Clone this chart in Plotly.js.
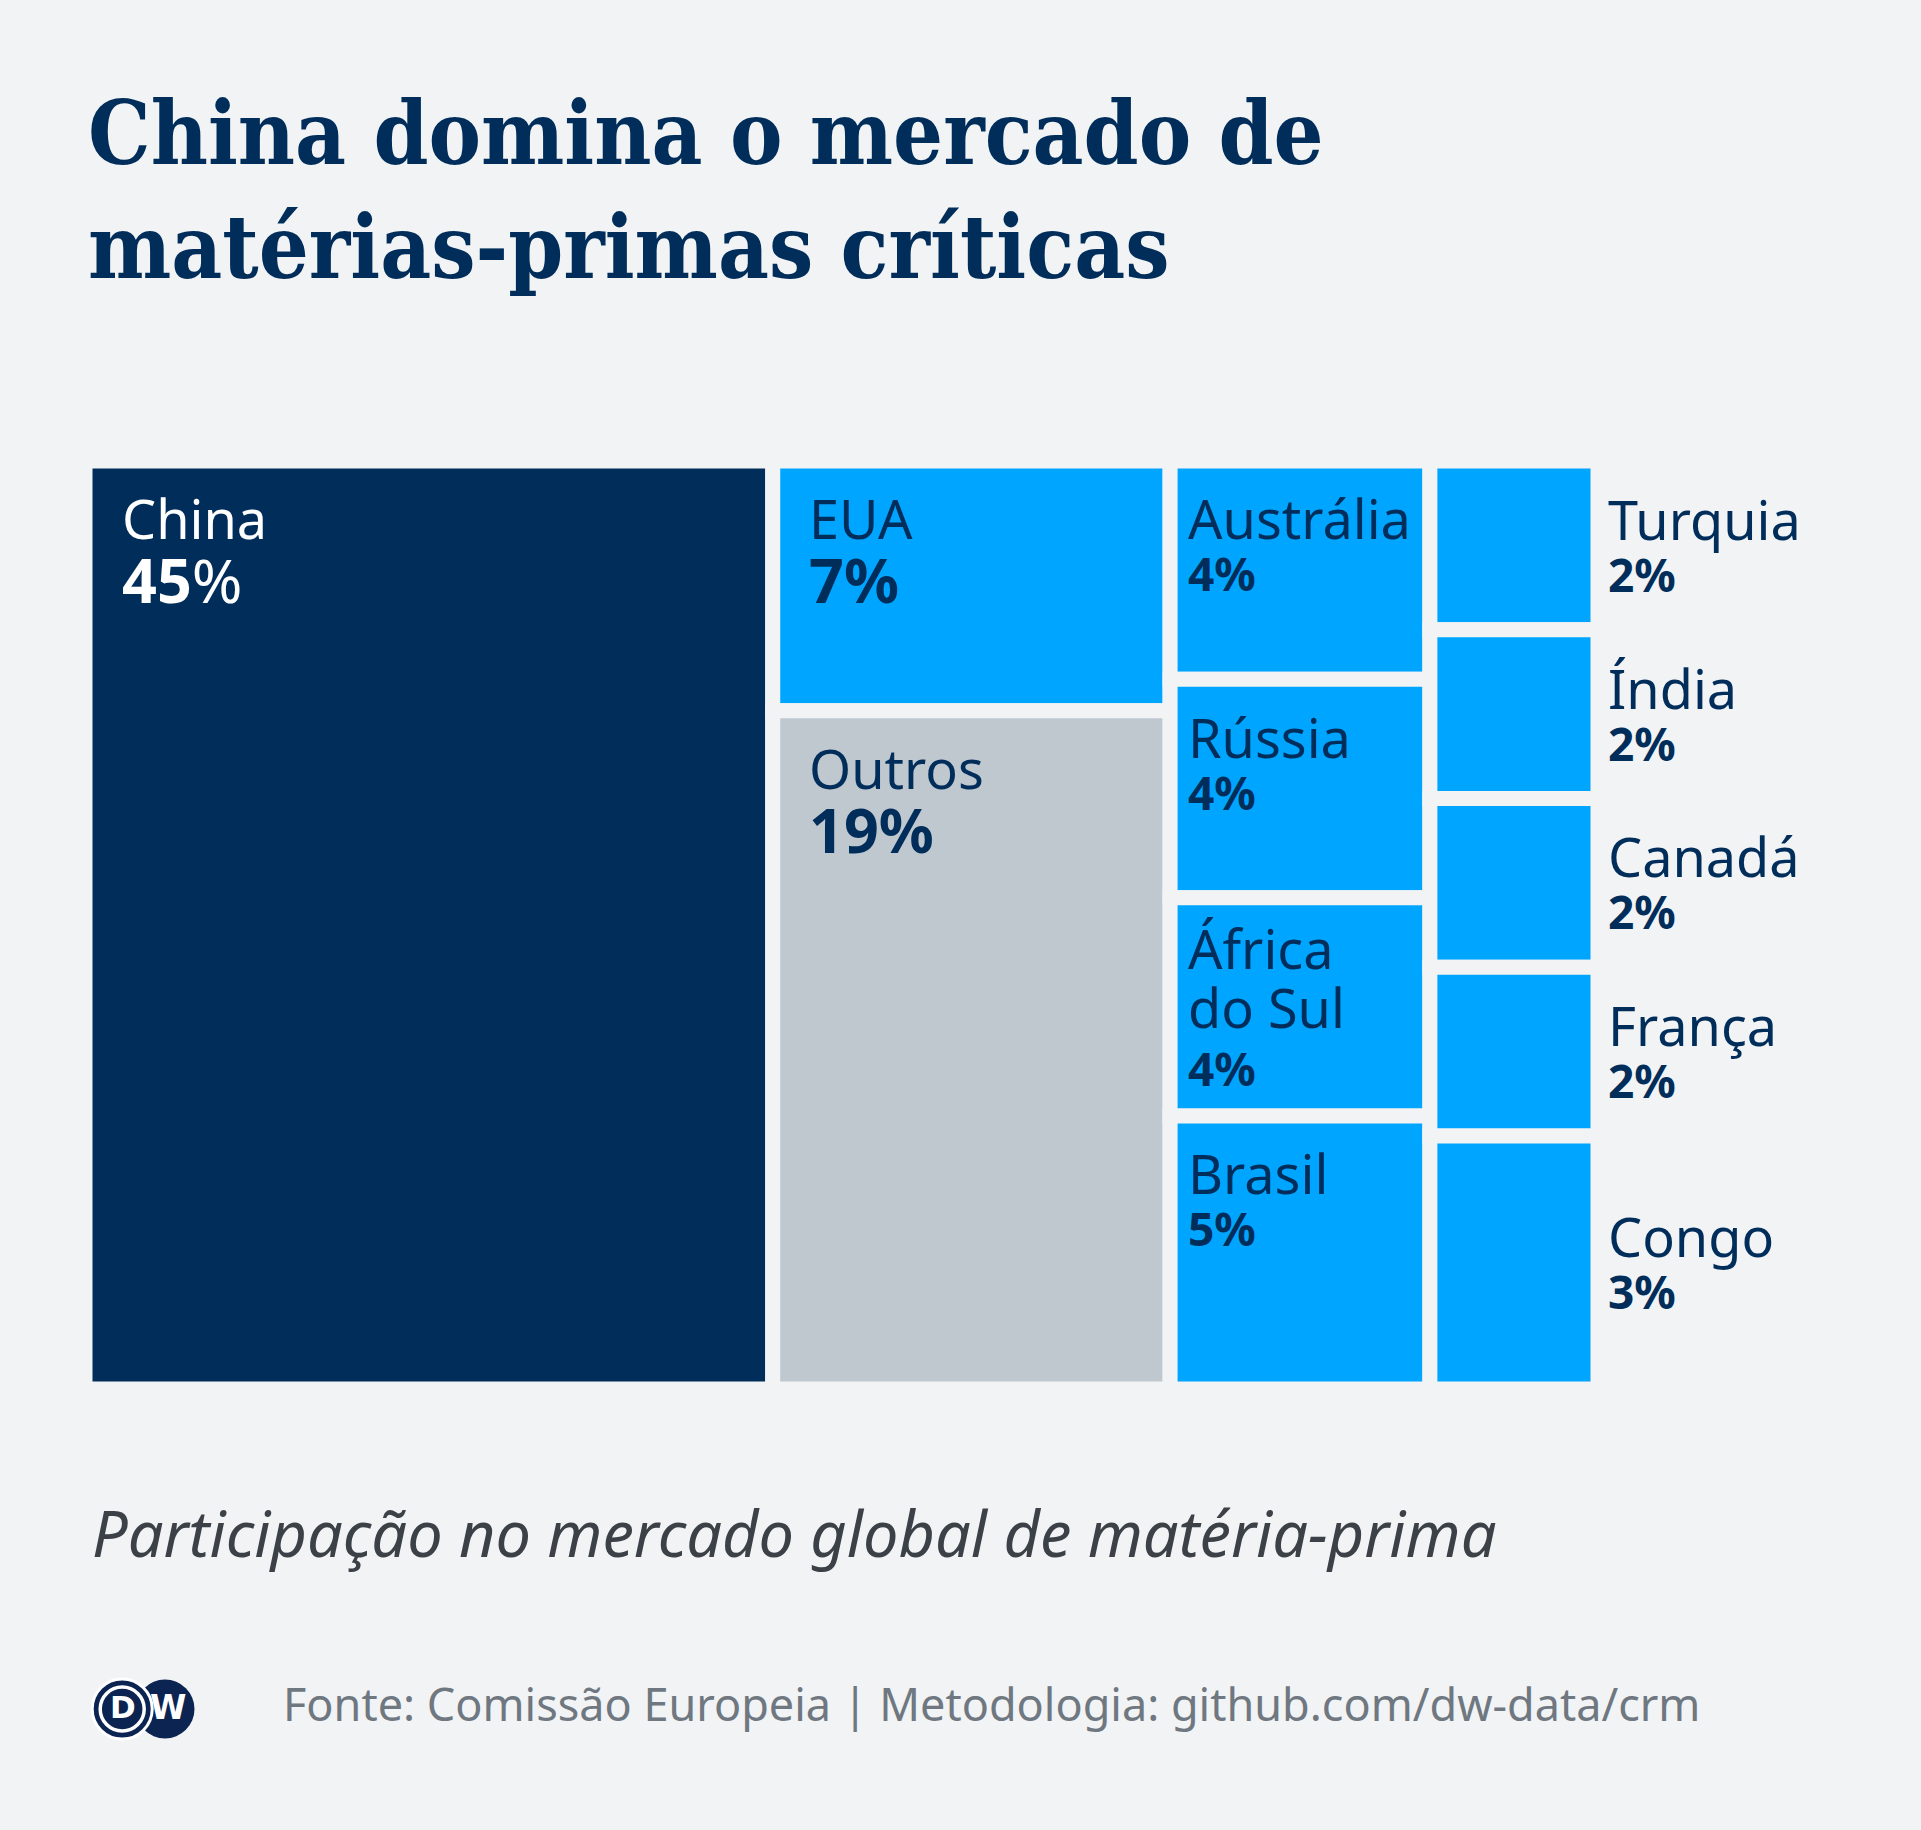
<!DOCTYPE html>
<html>
<head>
<meta charset="utf-8">
<script src="https://cdn.plot.ly/plotly-3.0.1.min.js"></script>
<style>
  html, body { margin: 0; padding: 0; background: #f1f3f5; overflow: hidden; }
  #chart { width: 1921px; height: 1830px; }
</style>
</head>
<body>
<div id="chart"></div>
<script>
// ---------------- data ----------------
const countries = ['China', 'EUA', 'Outros', 'Austrália', 'Rússia', 'África do Sul', 'Brasil',
                   'Turquia', 'Índia', 'Canadá', 'França', 'Congo'];
const shares    = [45, 7, 19, 4, 4, 4, 5, 2, 2, 2, 2, 3];
const columnOf  = [0, 1, 1, 2, 2, 2, 2, 3, 3, 3, 3, 3];

const titleText    = 'China domina o mercado de<br>matérias-primas críticas';
const subtitleText = 'Participação no mercado global de matéria-prima';
const sourceText   = 'Fonte: Comissão Europeia | Metodologia: github.com/dw-data/crm';

// ---------------- styles ----------------
const NAVY = '#002d5a', BLUE = '#00a5ff', GREY = '#bfc7cf', BG = '#f1f3f5';
const GAP = 15;
const NAME_SIZE = 54, PCT_BIG = 61, PCT_SMALL = 46;
const SANS = '"Noto Sans", "Open Sans", sans-serif';
const ASC = 1.069, CAP = 0.714;

// ---------------- slice-and-dice layout from the data ----------------
const nCols = Math.max(...columnOf) + 1;
const colTotals = Array(nCols).fill(0);
shares.forEach((v, i) => { colTotals[columnOf[i]] += v; });
const colStart = [];
let acc = 0;
colTotals.forEach(t => { colStart.push(acc); acc += t; });
const grand = acc;
const maxShare = Math.max(...shares);

const colCum = Array(nCols).fill(0);
const xs = [], ws = [], bases = [], hs = [], colors = [];
shares.forEach((v, i) => {
  const c = columnOf[i];
  xs.push(colStart[c] + colTotals[c] / 2);
  ws.push(colTotals[c]);
  bases.push(colCum[c] / colTotals[c]);
  hs.push(v / colTotals[c]);
  colCum[c] += v;
  colors.push(v === maxShare ? NAVY : (countries[i] === 'Outros' ? GREY : BLUE));
});

const trace = {
  type: 'bar',
  x: xs, y: hs, base: bases, width: ws,
  marker: { color: colors, line: { color: BG, width: GAP } },
  hoverinfo: 'skip',
  showlegend: false
};

// ---------------- labels ----------------
function wrap(name) {
  if (name.length > 10 && name.indexOf(' ') > 0) {
    const k = name.indexOf(' ');
    return name.slice(0, k) + '<br>' + name.slice(k + 1);
  }
  return name;
}

const annotations = [];
shares.forEach((v, i) => {
  const c = columnOf[i];
  const isMax = v === maxShare;
  const big = colTotals[c] >= 20;
  const outside = c === nCols - 1;
  const name = wrap(countries[i]);
  const nameLines = name.split('<br>').length;
  const pctSize = big ? PCT_BIG : PCT_SMALL;
  const pct = isMax ? '<b>' + v + '</b>%' : '<b>' + v + '%</b>';
  const txtColor = (isMax && !outside) ? '#ffffff' : NAVY;
  // base size sets the line spacing (1.3 × base)
  const baseSize = big ? 49.2 : (nameLines > 1 ? 45 : 40);
  const spacing = 1.3 * baseSize;
  const text = '<span style="font-size:' + NAME_SIZE + 'px">' + name + '</span><br>' +
               '<span style="font-size:' + pctSize + 'px">' + pct + '</span>';
  const centred = outside || nameLines > 1;
  let yshift, y;
  if (centred) {
    const blockH = CAP * NAME_SIZE + nameLines * spacing;
    y = bases[i] + hs[i] / 2;
    yshift = blockH / 2 + (ASC - CAP) * NAME_SIZE + 1;
  } else {
    y = bases[i];
    yshift = -(77 - 1 - ASC * NAME_SIZE);
  }
  annotations.push({
    x: outside ? grand : colStart[c], y: y, xref: 'x', yref: 'y',
    xanchor: 'left', yanchor: 'top',
    xshift: outside ? 7.5 : (big ? 34.5 : 16), yshift: yshift,
    text: text, showarrow: false, align: 'left',
    font: { family: SANS, size: baseSize, color: txtColor }
  });
});

// subtitle & source
annotations.push({
  x: 0, y: 0, xref: 'paper', yref: 'paper', xanchor: 'left', yanchor: 'top',
  xshift: 4.5, yshift: -99, showarrow: false, text: subtitleText,
  font: { family: SANS, size: 63, style: 'italic', color: '#3c4148' }
});
annotations.push({
  x: 0, y: 0, xref: 'paper', yref: 'paper', xanchor: 'left', yanchor: 'top',
  xshift: 195.5, yshift: -282, showarrow: false, text: sourceText,
  font: { family: SANS, size: 45, color: '#6f7780' }
});

// DW logo
const LOGO = '#0b2452';
function circ(cx, cy, r, fill, lineColor, lw) {
  return {
    type: 'circle', xref: 'paper', yref: 'paper', xsizemode: 'pixel', ysizemode: 'pixel',
    xanchor: 0, yanchor: 0, x0: cx - r, x1: cx + r, y0: cy - r, y1: cy + r,
    fillcolor: fill, line: { color: lineColor, width: lw }, layer: 'above'
  };
}
const shapes = [
  circ(80, -320, 29.5, LOGO, LOGO, 0),
  circ(37.2, -320, 30, LOGO, '#ffffff', 3),
  circ(37.2, -320, 22, 'rgba(0,0,0,0)', '#ffffff', 3.5)
];
annotations.push({
  x: 0, y: 0, xref: 'paper', yref: 'paper', xanchor: 'center', yanchor: 'middle',
  xshift: 37.7, yshift: -318, showarrow: false, text: '<b>D</b>',
  font: { family: '"DejaVu Sans", sans-serif', size: 31, color: '#ffffff' }
});
annotations.push({
  x: 0, y: 0, xref: 'paper', yref: 'paper', xanchor: 'center', yanchor: 'middle',
  xshift: 83, yshift: -318, showarrow: false, text: '<b>W</b>',
  font: { family: '"DejaVu Sans", sans-serif', size: 33, color: '#ffffff' }
});

const layout = {
  width: 1921, height: 1830,
  paper_bgcolor: BG, plot_bgcolor: BG,
  margin: { l: 84.5, r: 323, t: 461, b: 441.2, pad: 0 },
  barmode: 'overlay',
  showlegend: false,
  hovermode: false,
  xaxis: { range: [0, grand], visible: false, fixedrange: true },
  yaxis: { range: [1, 0], visible: false, fixedrange: true },
  title: {
    text: titleText,
    xref: 'container', yref: 'container',
    x: 88 / 1921, xanchor: 'left',
    y: 1 - 164 / 1830, yanchor: 'top',
    font: { family: '"DejaVu Serif Condensed", "DejaVu Serif", serif', weight: 'bold', size: 87.5, color: NAVY }
  },
  annotations: annotations,
  shapes: shapes
};

Plotly.newPlot('chart', [trace], layout, { displayModeBar: false, staticPlot: true });
</script>
</body>
</html>
